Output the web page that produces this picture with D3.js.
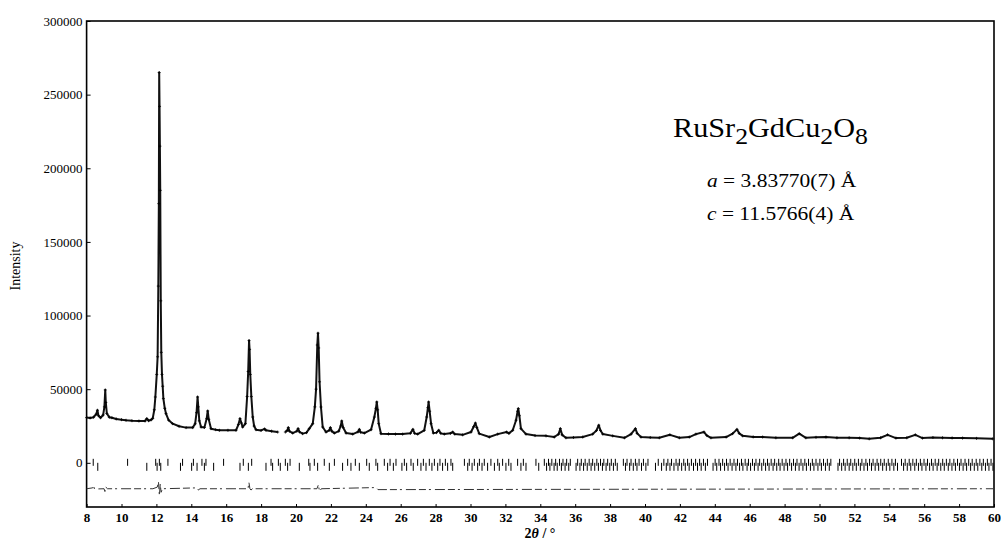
<!DOCTYPE html>
<html>
<head>
<meta charset="utf-8">
<script src="https://d3js.org/d3.v7.min.js"></script>
<title>RuSr2GdCu2O8 powder pattern</title>
<style>
body { margin:0; background:#fff; }
text { font-family: "Liberation Serif", "Times New Roman", serif; fill:#000; }
</style>
</head>
<body>
<div id="chart"></div>
<script>
var obsAngle = [8.00,8.20,8.40,8.55,8.62,8.68,8.80,8.95,9.02,9.07,9.10,9.16,9.30,9.45,9.70,10.00,10.26,10.60,11.00,11.35,
  11.45,11.55,11.70,11.79,11.88,11.94,12.02,12.07,12.11,12.14,12.16,12.18,12.20,12.22,12.25,12.28,12.32,12.36,12.40,12.48,
  12.55,12.70,12.93,13.30,13.70,14.08,14.22,14.30,14.36,14.40,14.46,14.56,14.75,14.88,14.94,15.00,15.13,15.40,15.61,16.10,
  16.56,16.70,16.79,16.87,16.94,17.10,17.20,17.26,17.31,17.34,17.38,17.44,17.52,17.60,17.71,18.00,18.20,18.28,18.60,18.95,
  19.15,19.39,19.50,19.56,19.62,19.81,20.05,20.12,20.20,20.38,20.60,20.76,20.96,21.08,21.15,21.22,21.26,21.30,21.35,21.43,
  21.53,21.72,21.90,21.97,22.05,22.20,22.45,22.56,22.62,22.70,22.87,23.25,23.55,23.63,23.70,23.92,24.30,24.49,24.58,24.63,
  24.68,24.74,24.87,25.30,25.70,26.11,26.55,26.70,26.80,26.97,27.35,27.49,27.56,27.60,27.66,27.74,27.87,28.05,28.18,28.30,
  28.50,28.85,28.98,29.10,29.55,30.03,30.18,30.28,30.36,30.50,31.08,31.56,32.07,32.20,32.42,32.61,32.70,32.74,32.80,32.89,
  33.18,33.70,34.33,34.80,35.05,35.15,35.25,35.47,35.90,36.43,37.00,37.22,37.35,37.45,37.58,38.15,38.82,39.20,39.45,39.55,
  39.77,40.30,40.82,41.43,41.97,42.54,42.92,43.38,43.55,43.78,44.65,45.02,45.27,45.40,45.60,46.20,46.74,47.50,48.46,48.84,
  49.22,49.80,50.37,51.00,51.70,52.30,52.85,53.50,53.90,54.38,55.00,55.49,55.90,56.50,57.05,57.60,58.20,59.00,59.93];
var obsCounts = [30700,30500,31000,33000,35700,32000,30600,32500,38000,49500,41000,33500,31000,30600,29800,29300,28900,28600,28400,28400,
  30000,28600,29200,30200,36000,44700,60000,72000,120000,176000,265000,242000,215000,185000,110000,75000,60000,52000,43600,37000,
  33400,29000,26600,24800,23900,23900,26500,34000,44700,38000,28500,24300,24000,30000,35200,29500,23200,22500,22100,22100,
  22100,26000,30000,27000,24300,26600,45000,62000,83000,77000,60000,45000,31100,25000,22500,22000,23000,22100,21500,20900,
  null,20900,22000,23900,21500,20200,21500,23200,21000,19800,20500,23200,26600,38000,50000,80000,88000,78000,55000,37900,
  24300,20900,22000,23900,21500,20200,21500,25000,28400,24000,20200,19500,21000,22700,20800,20200,22500,31100,37000,41300,
  36000,26600,19800,19600,19500,19500,20000,22700,20000,19500,22100,31100,37500,41300,35000,26600,20200,20500,22100,20000,
  19500,20000,20900,19500,19000,20900,24500,27000,24000,19800,17500,19500,20900,20000,22100,28900,35000,36800,32000,23200,
  19500,18500,18300,17500,19500,23200,19000,17000,17200,17500,19500,22000,25500,22000,19500,18300,17000,19500,23200,20000,
  17500,17200,17000,19000,17000,17500,19500,20900,18500,17000,17500,19800,22700,20000,18300,17600,17500,17000,17000,19800,
  17000,17300,17500,17000,17000,16800,16300,17000,19000,16800,17000,19000,16800,17200,17000,16900,16800,16600,16300];

// difference curve (obs - calc, offset)
var diffAngle = [8.00,8.35,8.40,8.45,9.00,9.05,9.10,9.20,11.80,12.05,12.12,12.17,12.22,12.27,12.35,14.35,14.40,14.50,
  17.25,17.30,17.36,17.42,17.50,21.20,21.28,21.35,21.45,24.60,24.70,60.00];
var diffCounts = [-17600,-17000,-15500,-17800,-17600,-19500,-16500,-17600,-17600,-16500,-13000,-22500,-14500,-20000,-17600,-17000,-18500,-17600,
  -17600,-13200,-17600,-18500,-17600,-17600,-15000,-19500,-17600,-16800,-18200,-17600];

// reflection markers (2theta)
var reflections = [8.38,8.64,10.35,11.45,11.96,12.04,12.17,12.25,12.66,13.38,13.50,14.02,14.12,14.33,14.61,14.75,14.84,15.28,15.85,16.79,
  16.98,17.27,17.46,18.28,18.57,18.66,18.99,19.10,19.39,19.52,19.66,20.19,20.73,20.80,21.05,21.24,21.62,21.91,22.20,22.67,
  22.96,23.15,23.40,23.63,24.05,24.20,24.58,24.68,25.06,25.25,25.39,25.58,25.73,26.07,26.21,26.34,26.59,26.72,26.97,27.16,
  27.30,27.45,27.64,27.79,27.93,28.12,28.25,28.40,28.56,28.69,28.88,28.98,29.65,29.84,29.93,30.09,30.22,30.41,30.51,30.66,
  30.79,30.98,31.17,31.37,31.56,31.65,31.84,32.03,32.19,32.32,32.70,32.89,33.03,33.18,33.75,33.91,34.23,34.36,34.47,34.55,
  34.66,34.79,34.88,34.97,35.10,35.21,35.30,35.42,35.51,35.63,35.72,36.05,36.14,36.27,36.35,36.48,36.57,36.69,36.80,36.91,
  37.00,37.12,37.24,37.33,37.45,37.56,37.64,37.77,37.86,37.98,38.07,38.19,38.30,38.41,38.76,38.88,38.97,39.12,39.20,39.33,
  39.45,39.54,39.66,39.80,39.91,40.05,40.17,40.60,40.76,40.95,41.08,41.22,41.31,41.43,41.52,41.66,41.78,41.89,41.97,42.10,
  42.22,42.31,42.44,42.53,42.66,42.78,42.90,43.01,43.13,43.22,43.35,43.46,43.58,43.90,44.02,44.11,44.24,44.33,44.45,44.56,
  44.67,44.76,44.88,44.99,45.10,45.21,45.30,45.42,45.53,45.61,45.74,45.85,45.93,46.05,46.16,46.27,46.36,46.48,46.57,46.69,
  46.80,46.91,47.02,47.11,47.23,47.34,47.43,47.55,47.66,47.74,47.86,47.97,48.08,48.17,48.29,48.40,48.51,48.62,48.71,48.83,
  48.94,49.05,49.16,49.25,49.37,49.48,49.59,49.68,49.80,49.91,50.02,50.11,50.23,50.34,50.45,50.56,50.65,51.06,51.15,51.27,
  51.38,51.47,51.59,51.70,51.79,51.91,52.02,52.11,52.23,52.34,52.43,52.55,52.66,52.75,52.87,52.98,53.07,53.19,53.30,53.39,
  53.51,53.62,53.71,53.83,53.94,54.03,54.15,54.26,54.35,54.47,54.70,54.82,54.91,55.03,55.14,55.23,55.35,55.46,55.55,55.67,
  55.78,55.87,55.99,56.10,56.19,56.31,56.42,56.51,56.63,56.74,56.83,56.95,57.06,57.15,57.27,57.38,57.47,57.59,57.70,57.79,
  57.91,58.02,58.11,58.23,58.34,58.43,58.55,58.66,58.75,58.87,58.98,59.07,59.19,59.30,59.39,59.51,59.62,59.71,59.83,59.94];

var xTickValues = [8,10,12,14,16,18,20,22,24,26,28,30,32,34,36,38,40,42,44,46,48,50,52,54,56,58,60];
var yTickValues = [0,50000,100000,150000,200000,250000,300000];

(function(){

var w = 1001, h = 542;
var mLeft = 86.6, mRight = 994, mTop = 21, mBottom = 507;

var svg = d3.select("#chart").append("svg")
    .attr("width", w).attr("height", h);

var x = d3.scaleLinear().domain([8, 60]).range([mLeft, mRight]);
var y = d3.scaleLinear().domain([-30000, 300000]).range([mBottom, mTop]);

// axes, ticks pointing inward
var xAxis = d3.axisBottom(x).tickValues(xTickValues).tickSizeInner(-3).tickSizeOuter(0)
    .tickPadding(6).tickFormat(d3.format("d"));
var gx = svg.append("g").attr("transform", "translate(0," + mBottom + ")").call(xAxis);
gx.select(".domain").remove();
gx.selectAll("text").style("font-family", "Liberation Serif").style("font-size", "13px")
   .style("font-weight", "bold").attr("fill", "#000");
gx.selectAll("line").attr("stroke", "#000");

var yAxis = d3.axisLeft(y).tickValues(yTickValues).tickSizeInner(-4).tickSizeOuter(0)
    .tickPadding(4).tickFormat(d3.format("d"));
var gy = svg.append("g").attr("transform", "translate(" + mLeft + ",0)").call(yAxis);
gy.select(".domain").remove();
gy.selectAll("text").style("font-family", "Liberation Serif").style("font-size", "13px").attr("fill", "#000");
gy.selectAll("line").attr("stroke", "#000");

svg.append("rect")
   .attr("x", mLeft).attr("y", mTop).attr("width", mRight - mLeft).attr("height", mBottom - mTop)
   .attr("fill", "none").attr("stroke", "black").attr("stroke-width", 1.6);

// observed pattern
var obs = obsAngle.map(function(a, i) { return [a, obsCounts[i]]; });
var line = d3.line()
    .defined(function(d) { return d[1] !== null; })
    .x(function(d) { return x(d[0]); })
    .y(function(d) { return y(d[1]); });

svg.append("path").datum(obs)
   .attr("d", line).attr("fill", "none").attr("stroke", "#111")
   .attr("stroke-width", 2).attr("stroke-linejoin", "round");

svg.selectAll("path.pt")
   .data(obs.filter(function(d) { return d[1] !== null; }))
   .enter().append("path").attr("class", "pt")
   .attr("d", function(d) {
       var px = x(d[0]), py = y(d[1]);
       return "M" + (px - 1.5) + "," + py + "H" + (px + 1.5) + "M" + px + "," + (py - 1.5) + "V" + (py + 1.5);
   })
   .attr("stroke", "#000").attr("stroke-width", 0.8);

// reflection markers, staggered in two rows
svg.selectAll("line.refl")
   .data(reflections)
   .enter().append("line").attr("class", "refl")
   .attr("x1", function(d) { return x(d); }).attr("x2", function(d) { return x(d); })
   .attr("y1", function(d, i) { return y(0) + (i % 2 ? 0 : -4); })
   .attr("y2", function(d, i) { return y(0) + (i % 2 ? 8 : 3); })
   .attr("stroke", "#000").attr("stroke-width", 1);

// difference curve
var diff = diffAngle.map(function(a, i) { return [a, diffCounts[i]]; });
svg.append("path").datum(diff)
   .attr("d", line).attr("fill", "none").attr("stroke", "#333")
   .attr("stroke-width", 1).attr("stroke-dasharray", "7,3,2,4,10,3");

// axis titles
svg.append("text")
   .attr("transform", "translate(20,266) rotate(-90)")
   .attr("text-anchor", "middle").style("font-size", "14px")
   .text("Intensity");

var xt = svg.append("text").attr("x", 540).attr("y", 538)
   .attr("text-anchor", "middle").style("font-size", "14px").style("font-weight", "bold");
xt.append("tspan").text("2");
xt.append("tspan").style("font-style", "italic").text("θ");
xt.append("tspan").text("  / °");

// annotation
var ann = svg.append("g").attr("transform", "translate(673,137) scale(1.12,1)");
var t1 = ann.append("text").style("font-size", "27px");
t1.append("tspan").text("RuSr");
t1.append("tspan").attr("dy", 7).style("font-size", "23px").text("2");
t1.append("tspan").attr("dy", -7).text("GdCu");
t1.append("tspan").attr("dy", 7).style("font-size", "23px").text("2");
t1.append("tspan").attr("dy", -7).text("O");
t1.append("tspan").attr("dy", 7).style("font-size", "23px").text("8");

var la = svg.append("g").attr("transform", "translate(707,187) scale(1.13,1)").append("text").style("font-size", "19px");
la.append("tspan").style("font-style", "italic").text("a");
la.append("tspan").text(" = 3.83770(7) Å");

var lc = svg.append("g").attr("transform", "translate(707,220) scale(1.13,1)").append("text").style("font-size", "19px");
lc.append("tspan").style("font-style", "italic").text("c");
lc.append("tspan").text(" = 11.5766(4) Å");

})();
</script>
</body>
</html>
